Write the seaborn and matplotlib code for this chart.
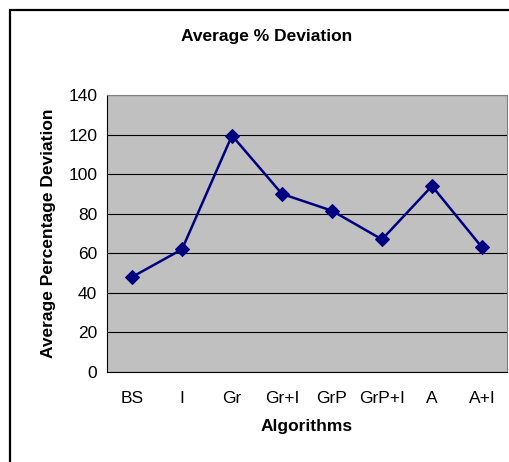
import pandas as pd
import matplotlib.pyplot as plt
import seaborn as sns
from matplotlib.patches import Rectangle

# data
algorithms = ["BS", "I", "Gr", "Gr+I", "GrP", "GrP+I", "A", "A+I"]
avg_deviation = [48, 62, 119.5, 90, 81.5, 67, 94, 63]

df = pd.DataFrame({"Algorithm": algorithms, "Deviation": avg_deviation})
df["pos"] = range(len(algorithms))

sns.set_style("white")
plt.rcParams["font.family"] = ["Liberation Sans", "DejaVu Sans"]
plt.rcParams["text.color"] = "black"
plt.rcParams["axes.labelcolor"] = "black"
plt.rcParams["xtick.color"] = "black"
plt.rcParams["ytick.color"] = "black"

fig = plt.figure(figsize=(5.1, 4.62), dpi=100)
ax = fig.add_axes([0.2098, 0.1948, 0.7843, 0.5996])
ax.set_facecolor("#C0C0C0")

sns.lineplot(data=df, x="pos", y="Deviation", ax=ax, color="#000080",
             marker="D", markersize=7, markeredgecolor="#000080",
             linewidth=1.8, zorder=3)

ax.set_ylim(0, 140)
ax.set_yticks(range(0, 141, 20))
ax.yaxis.grid(True, color="#000000", linewidth=0.8)
ax.set_axisbelow(True)

ax.set_xlim(-0.5, len(algorithms) - 0.5)
ax.set_xticks(range(len(algorithms)))
ax.set_xticklabels(algorithms)
ax.set_xticks([i - 0.5 for i in range(len(algorithms) + 1)], minor=True)
ax.tick_params(axis="x", which="major", length=0, pad=14, labelsize=12.5)
ax.tick_params(axis="x", which="minor", length=4, width=0.8, color="#000000", direction="out")
ax.tick_params(axis="y", length=4, width=0.8, color="#000000", direction="out", labelsize=12.5, pad=3)

for s in ["top", "right"]:
    ax.spines[s].set_color("#808080")
ax.spines["left"].set_color("#000000")
ax.spines["bottom"].set_color("#000000")

ax.set_xlabel("Algorithms", fontsize=12.5, fontweight="bold", labelpad=9)
ax.set_ylabel("Average Percentage Deviation", fontsize=12.5, fontweight="bold", labelpad=9)

fig.text(0.523, 0.922, "Average % Deviation", ha="center", va="center",
         fontsize=12.5, fontweight="bold")

# chart frame
fig.patches.append(Rectangle((0.02, -0.05), 1.1, 1.028, transform=fig.transFigure,
                             fill=False, edgecolor="black", linewidth=1.6))

fig.savefig("out.png", dpi=100)
